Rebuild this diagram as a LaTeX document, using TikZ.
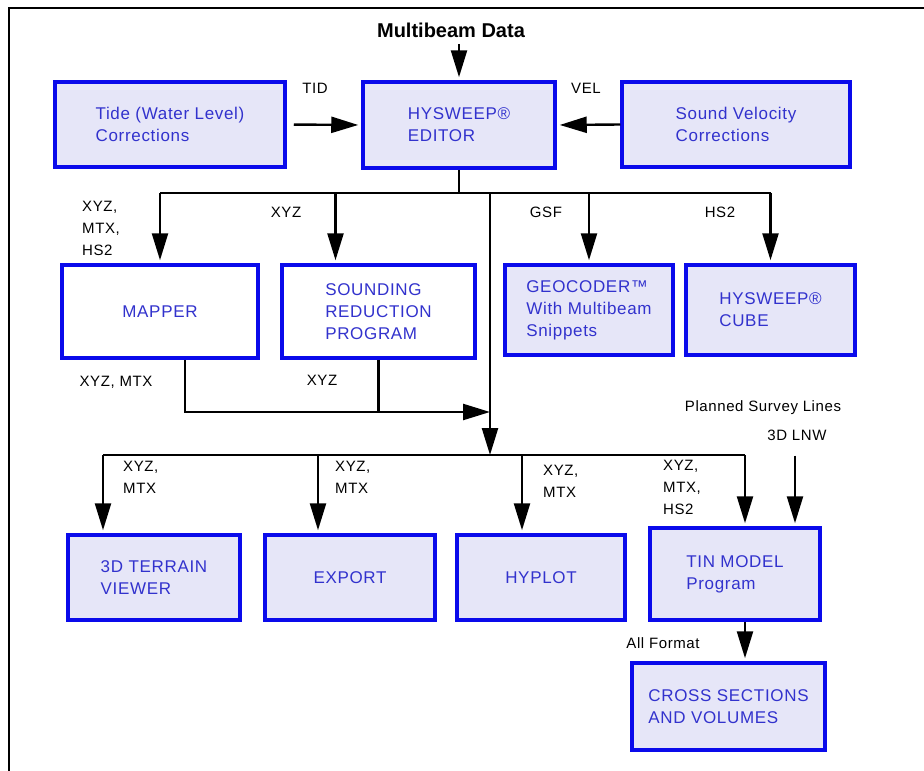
\documentclass[tikz,border=0pt]{standalone}
\usepackage{fontspec}
\setmainfont{Liberation Sans}
\newfontfamily\boxfont[LetterSpace=4]{Liberation Sans}
\newfontfamily\lblfont[LetterSpace=4]{Liberation Sans}
\usetikzlibrary{arrows.meta,calc}
\definecolor{boxblue}{RGB}{10,10,235}
\definecolor{boxfill}{RGB}{230,230,248}
\definecolor{txtblue}{RGB}{50,50,205}
\begin{document}
\begin{tikzpicture}[x=1pt, y=-1pt,
    procbox/.style={draw=boxblue, line width=3.5pt, fill=boxfill, text=txtblue, align=left,
        inner sep=0pt, font=\boxfont\fontsize{17}{22}\selectfont},
    plainbox/.style={procbox, fill=white},
    lbl/.style={inner sep=0pt, align=left, font=\lblfont\fontsize{15}{22}\selectfont},
    wire/.style={line width=2.4pt},
    flow/.style={wire, shorten >=3pt, -{Triangle[length=27pt,width=16pt]}}]
    \useasboundingbox (0,0) rectangle (924,771);
    \draw[line width=2.5pt] (9,771) -- (9,8) -- (924,8);
    \node[procbox, minimum width=230pt, minimum height=85pt] (tide) at (170,124.5) {Tide (Water Level)\\Corrections};
    \node[procbox, minimum width=192pt, minimum height=86pt] (editor) at (459,125) {HYSWEEP®\\EDITOR};
    \node[procbox, minimum width=228pt, minimum height=85pt] (velocity) at (736,124.5) {Sound Velocity\\Corrections};
    \node[plainbox, minimum width=196pt, minimum height=93pt] (mapper) at (160,311.5) {MAPPER};
    \node[plainbox, minimum width=193pt, minimum height=93pt] (sounding) at (378.5,311.5) {SOUNDING\\REDUCTION\\PROGRAM};
    \node[procbox, minimum width=168pt, minimum height=90pt] (geocoder) at (589,310) {GEOCODER™\\With Multibeam\\Snippets};
    \node[procbox, minimum width=169pt, minimum height=90pt] (cube) at (770.5,310) {HYSWEEP®\\CUBE};
    \node[procbox, minimum width=172pt, minimum height=85pt] (terrain) at (154,577.5) {3D TERRAIN\\VIEWER};
    \node[procbox, minimum width=170pt, minimum height=85pt] (export) at (350,577.5) {EXPORT};
    \node[procbox, minimum width=168pt, minimum height=85pt] (hyplot) at (541,577.5) {HYPLOT};
    \node[procbox, minimum width=170pt, minimum height=92pt] (tin) at (735,574) {TIN MODEL\\Program};
    \node[procbox, minimum width=193pt, minimum height=87pt] (cross) at (728.5,706.5) {CROSS SECTIONS\\AND VOLUMES};

    \node[font=\bfseries\fontsize{20}{22}\selectfont] (mbdata) at (451,30) {Multibeam Data};
    \draw[flow, shorten <=3pt] (mbdata.south -| editor.north) -- (editor.north);
    \draw[flow, shorten <=7pt] (tide.east) -- (editor.west);
    \draw[flow] (velocity.west) -- (editor.east);
    \node[lbl] (tid) at (315,88) {TID};
    \node[lbl] (vel) at (586,88) {VEL};

    \coordinate (bus1) at ($(editor.south)+(0,23)$);
    \coordinate (sndin) at ([xshift=-43pt]sounding.north);
    \draw[wire] (editor.south) -- (bus1);
    \draw[wire] (mapper.north |- bus1) -- (cube.north |- bus1);
    \foreach \c in {mapper.north, sndin, geocoder.north, cube.north}
        \draw[flow] (\c |- bus1) -- (\c);
    \node[lbl, anchor=west] (lblmap) at (82,228) {XYZ,\\MTX,\\HS2};
    \node[lbl] (lblsnd) at (286,212) {XYZ};
    \node[lbl] (lblgsf) at (546,212) {GSF};
    \node[lbl] (lblcube) at (720,212) {HS2};

    \coordinate (hub) at (490,455);
    \coordinate (join) at (490,412);
    \coordinate (mapout) at ([xshift=25pt]mapper.south);
    \draw[flow, shorten >=0pt] (hub |- bus1) -- (hub);
    \draw[flow, shorten >=0pt] (mapout) |- (join);
    \draw[wire] (sounding.south) -- (sounding.south |- join);
    \node[lbl] (lblmapout) at (116,382) {XYZ, MTX};
    \node[lbl] (lblsndout) at (322,380) {XYZ};

    \coordinate (terrin) at ([xshift=-51pt]terrain.north);
    \coordinate (expin) at ([xshift=-32pt]export.north);
    \coordinate (hypin) at ([xshift=-19pt]hyplot.north);
    \coordinate (tinin) at ([xshift=10pt]tin.north);
    \draw[wire] (terrin |- hub) -- (tinin |- hub);
    \foreach \c in {terrin, expin, hypin, tinin}
        \draw[flow] (\c |- hub) -- (\c);
    \node[lbl, anchor=west] (lblterr) at (123,477) {XYZ,\\MTX};
    \node[lbl, anchor=west] (lblexp) at (335,477) {XYZ,\\MTX};
    \node[lbl, anchor=west] (lblhyp) at (543,481) {XYZ,\\MTX};
    \node[lbl, anchor=west] (lbltin) at (663,487) {XYZ,\\MTX,\\HS2};

    \node[lbl] (planned) at (763,408) {Planned Survey Lines};
    \node[lbl] (lnw) at (797,435) {3D LNW};
    \coordinate (lnwin) at ([xshift=60pt]tin.north);
    \draw[flow] ($(lnw.south -| lnwin)+(0,15)$) -- (lnwin);

    \coordinate (tinout) at ([xshift=10pt]tin.south);
    \draw[flow] (tinout) -- (tinout |- cross.north);
    \node[lbl] (lblall) at (663,643) {All Format};
\end{tikzpicture}
\end{document}
